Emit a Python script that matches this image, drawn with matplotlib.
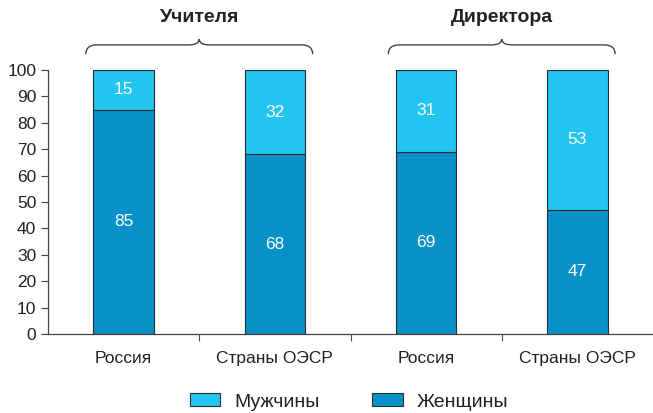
import matplotlib.pyplot as plt
from matplotlib.path import Path
from matplotlib.patches import PathPatch
import matplotlib.transforms as mtransforms

# Data
categories = ["Россия", "Страны ОЭСР", "Россия", "Страны ОЭСР"]
women = [85, 68, 69, 47]
men = [15, 32, 31, 53]
groups = ["Учителя", "Директора"]
group_centers = [0.5, 2.5]

c_men = "#22c4f0"
c_women = "#0890c8"
edge = "#2b2b2b"

plt.rcParams['font.family'] = ['Liberation Sans Narrow', 'Liberation Sans', 'DejaVu Sans']

fig = plt.figure(figsize=(6.53, 4.13), dpi=100)
ax = fig.add_axes([48 / 653, 79 / 413, 605 / 653, 264 / 413])

x = range(len(categories))
b1 = ax.bar(x, women, width=0.4, color=c_women, edgecolor=edge, linewidth=0.8, label="Женщины")
b2 = ax.bar(x, men, width=0.4, bottom=women, color=c_men, edgecolor=edge, linewidth=0.8, label="Мужчины")

for i in x:
    ax.text(i, women[i] / 2, str(women[i]), ha="center", va="center", color="white", fontsize=12.5)
    ax.text(i, women[i] + men[i] / 2, str(men[i]), ha="center", va="center", color="white", fontsize=12.5)

ax.set_xlim(-0.5, 3.5)
ax.set_ylim(0, 100)
ax.set_yticks(range(0, 101, 10))
ax.set_xticks([0.5, 1.5, 2.5])
ax.set_xticklabels([])
ax.set_xticks(list(x), minor=True)
ax.set_xticklabels(categories, minor=True, fontsize=12.5, color="#222222")
ax.tick_params(axis="x", which="minor", length=0, pad=12)
ax.tick_params(axis="x", which="major", length=5, direction="out", color="#444444")
ax.tick_params(axis="y", length=5, direction="out", labelsize=12.5, color="#444444", labelcolor="#222222")
for s in ["top", "right"]:
    ax.spines[s].set_visible(False)
for s in ["left", "bottom"]:
    ax.spines[s].set_color("#444444")
    ax.spines[s].set_linewidth(0.9)

# curly braces above the groups
trans = mtransforms.blended_transform_factory(ax.transData, ax.transAxes)
y_end, y_line, y_peak = 1.06, 1.095, 1.117
for name, xc in zip(groups, group_centers):
    x0, x1 = xc - 0.75, xc + 0.75
    r = 0.07
    verts = [(x0, y_end), (x0, y_line), (x0 + r, y_line),
             (xc - r, y_line),
             (xc, y_line), (xc, y_peak),
             (xc, y_line), (xc + r, y_line),
             (x1 - r, y_line),
             (x1, y_line), (x1, y_end)]
    codes = [Path.MOVETO, Path.CURVE3, Path.CURVE3,
             Path.LINETO,
             Path.CURVE3, Path.CURVE3,
             Path.CURVE3, Path.CURVE3,
             Path.LINETO,
             Path.CURVE3, Path.CURVE3]
    ax.add_patch(PathPatch(Path(verts, codes), transform=trans, fill=False,
                           edgecolor="#444444", linewidth=1.0, clip_on=False))
    ax.text(xc, 1.20, name, transform=trans, ha="center", va="center",
            fontsize=14, fontweight="bold", color="#222222")

fig.legend(handles=[b2, b1], labels=["Мужчины", "Женщины"], loc="center",
           bbox_to_anchor=(0.535, 1 - 402 / 413), ncol=2, frameon=False,
           fontsize=14, handlelength=1.55, handleheight=0.65,
           handletextpad=0.75, columnspacing=2.7, labelcolor="#222222")

fig.savefig("out.png", dpi=100)
